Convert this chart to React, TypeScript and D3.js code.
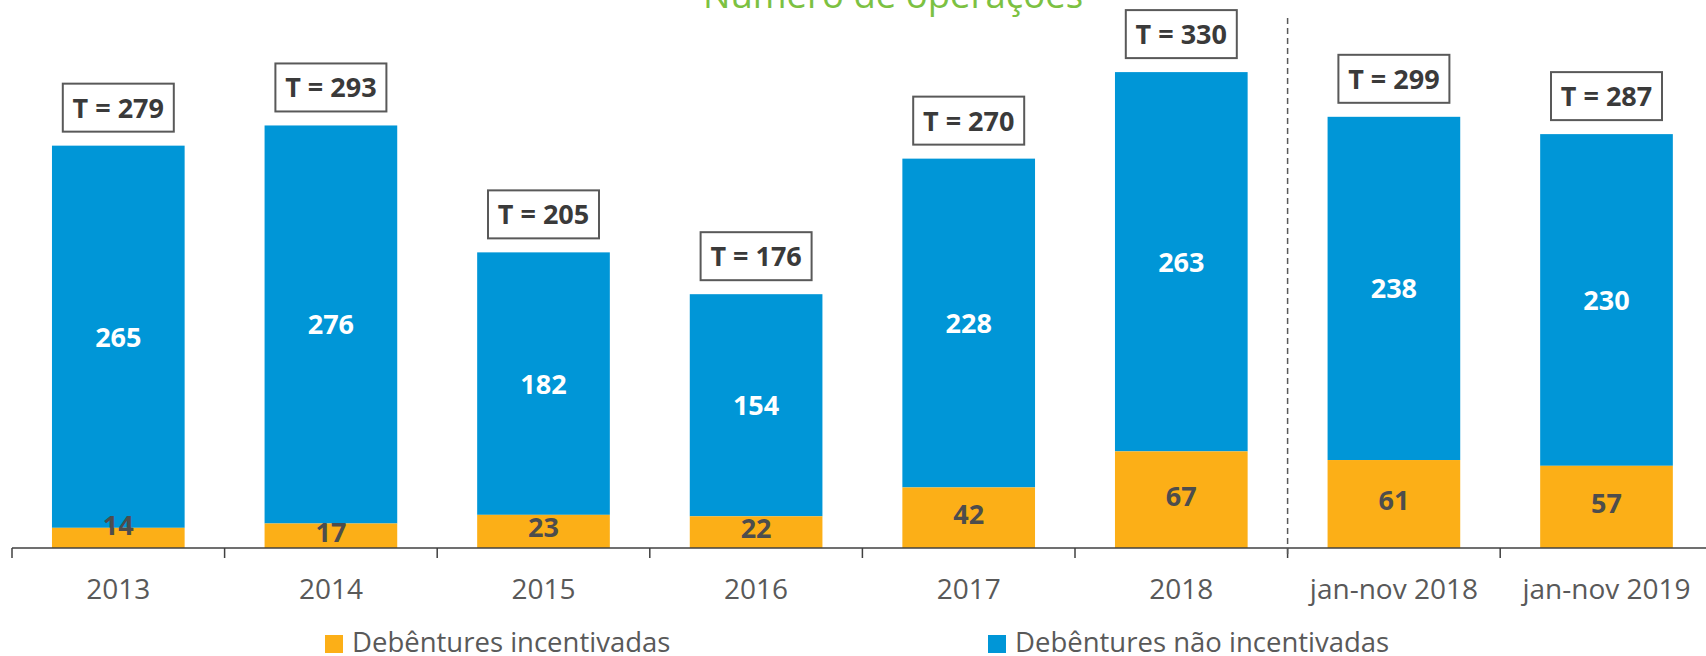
import React from "react";
import * as d3 from "d3";

const categories = ["2013", "2014", "2015", "2016", "2017", "2018", "jan-nov 2018", "jan-nov 2019"];
const incentivadas = [14, 17, 23, 22, 42, 67, 61, 57];
const naoIncentivadas = [265, 276, 182, 154, 228, 263, 238, 230];
const totals = [279, 293, 205, 176, 270, 330, 299, 287];
const seriesNames = ["Debêntures incentivadas", "Debêntures não incentivadas"];
const title = "Número de operações";

const W = 1706;
const H = 656;
const FONT = "'Open Sans', 'Noto Sans', sans-serif";
const BLUE = "#0096d7";
const ORANGE = "#fcaf17";
const AXIS = "#404040";

export default function App() {
  const axisY = 548;
  const x = d3
    .scaleBand<string>()
    .domain(categories)
    .range([12, 12 + 212.6 * categories.length])
    .paddingInner(0.376)
    .paddingOuter(0.188);
  const y = d3.scaleLinear().domain([0, 380]).range([axisY, 0]);
  const step = x.step();
  const bw = x.bandwidth();
  const dividerX = 12 + step * 6;

  return (
    <svg
      width={W}
      height={H}
      style={{ position: "absolute", left: 0, top: 0, background: "#fff" }}
      fontFamily={FONT}
    >
      <rect x={0} y={0} width={W} height={H} fill="#fff" />
      <text x={893} y={8} textAnchor="middle" fontSize={36.5} fill="#7cc142">
        {title}
      </text>

      {categories.map((c, i) => {
        const x0 = x(c)!;
        const cx = x0 + bw / 2;
        const oTop = y(incentivadas[i]);
        const bTop = y(incentivadas[i] + naoIncentivadas[i]);
        const oH = axisY - oTop;
        const oMid = oH < 22 ? oTop - 3 : (oTop + axisY) / 2 - 4;
        const bMid = (bTop + oTop) / 2;
        const boxW = 111;
        const boxH = 48;
        const boxBottom = bTop - 14;
        return (
          <g key={c}>
            <rect x={x0} y={bTop} width={bw} height={oTop - bTop} fill={BLUE} />
            <rect x={x0} y={oTop} width={bw} height={oH} fill={ORANGE} />
            <text x={cx} y={bMid + 10} textAnchor="middle" fontSize={27} fontWeight={700} fill="#fff">
              {naoIncentivadas[i]}
            </text>
            <text x={cx} y={oMid + 10} textAnchor="middle" fontSize={27} fontWeight={700} fill="#4d4d4d">
              {incentivadas[i]}
            </text>
            <rect
              x={cx - boxW / 2}
              y={boxBottom - boxH}
              width={boxW}
              height={boxH}
              fill="#fff"
              stroke="#595959"
              strokeWidth={2}
            />
            <text x={cx} y={boxBottom - boxH / 2 + 10} textAnchor="middle" fontSize={27} fontWeight={700} fill="#3a3a3a">
              {`T = ${totals[i]}`}
            </text>
            <text x={cx} y={599} textAnchor="middle" fontSize={28} fill="#595959">
              {c}
            </text>
          </g>
        );
      })}

      <line x1={12} x2={W} y1={axisY} y2={axisY} stroke={AXIS} strokeWidth={1.5} />
      {d3.range(categories.length + 1).map((k) => (
        <line
          key={k}
          x1={12 + k * step}
          x2={12 + k * step}
          y1={axisY}
          y2={axisY + 10}
          stroke={AXIS}
          strokeWidth={1.5}
        />
      ))}
      <line
        x1={dividerX}
        x2={dividerX}
        y1={18}
        y2={axisY + 10}
        stroke="#595959"
        strokeWidth={1.5}
        strokeDasharray="6,4"
      />

      {[ORANGE, BLUE].map((col, k) => {
        const lx = k === 0 ? 325 : 988;
        return (
          <g key={k}>
            <rect x={lx} y={635} width={18} height={18} fill={col} />
            <text x={lx + 27} y={652} fontSize={27.5} fill="#595959">
              {seriesNames[k]}
            </text>
          </g>
        );
      })}
    </svg>
  );
}
